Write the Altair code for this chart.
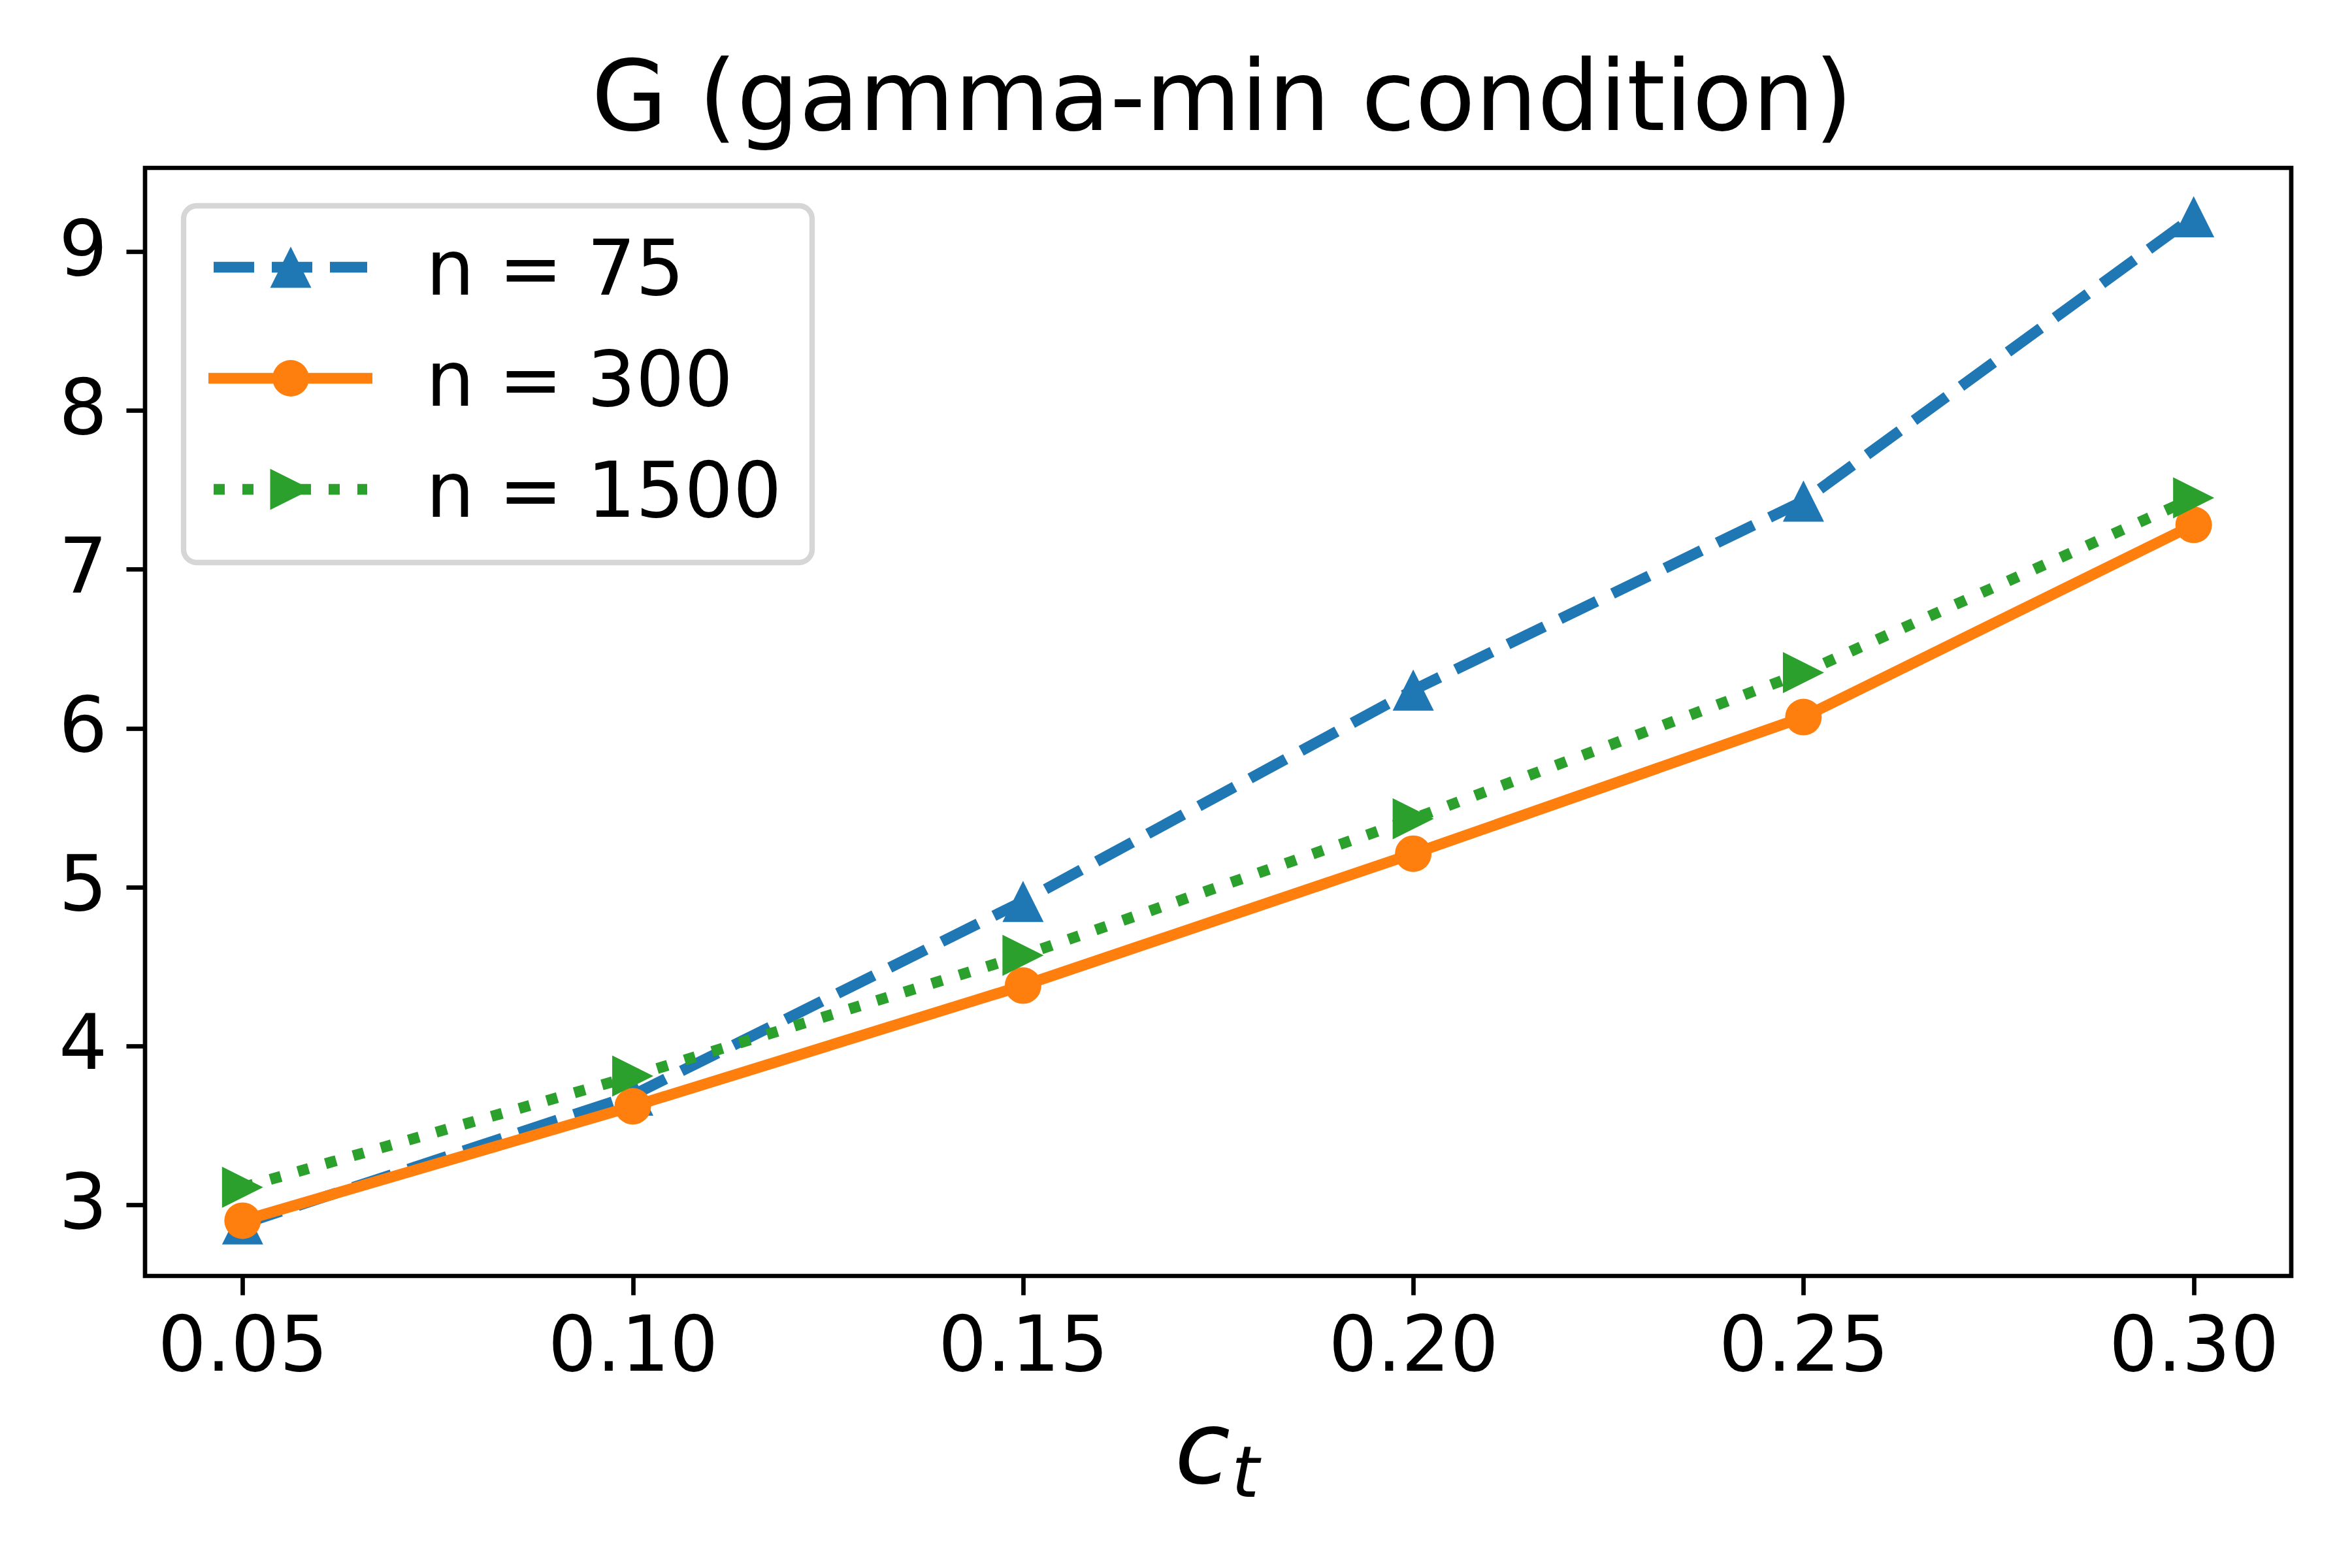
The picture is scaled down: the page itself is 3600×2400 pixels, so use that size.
import altair as alt
import pandas as pd

# ---- data ----
ct = [0.05, 0.10, 0.15, 0.20, 0.25, 0.30]
g_n75 = [2.88, 3.69, 4.91, 6.24, 7.43, 9.22]
g_n300 = [2.90, 3.62, 4.38, 5.21, 6.07, 7.28]
g_n1500 = [3.11, 3.81, 4.57, 5.43, 6.35, 7.45]
series_labels = ["n = 75", "n = 300", "n = 1500"]
x_ticks = [0.05, 0.10, 0.15, 0.20, 0.25, 0.30]
y_ticks = [3, 4, 5, 6, 7, 8, 9]
chart_title = "G (gamma-min condition)"
x_label_main = "c"
x_label_sub = "t"

# ---- styling ----
colors = ["#1f77b4", "#ff7f0e", "#2ca02c"]
dashes = [[62, 27], None, [17, 27]]
tri_up = "M0,-1L-1,1L1,1Z"
tri_right = "M1,0L-1,-1L-1,1Z"
shapes = [tri_up, "circle", tri_right]
sizes = [3969, 3136, 3969]
LW = 16.7
FONT = "DejaVu Sans"
W, H = 3285, 1696

x_scale = alt.Scale(domain=[0.0375, 0.3125], nice=False, zero=False)
y_scale = alt.Scale(domain=[2.552, 9.527], nice=False, zero=False)

x_axis = alt.Axis(values=x_ticks, format=".2f", title=None, grid=False, domain=False,
                  tickSize=29, tickWidth=6.7, tickColor="black",
                  labelFontSize=117, labelPadding=23, labelColor="black",
                  labelFont=FONT, labelFlush=False, labelLimit=1000, labelOverlap=False)
y_axis = alt.Axis(values=y_ticks, format="d", title=None, grid=False, domain=False,
                  tickSize=29, tickWidth=6.7, tickColor="black",
                  labelFontSize=117, labelPadding=29, labelColor="black",
                  labelFont=FONT, labelLimit=1000, labelOverlap=False)

all_vals = [g_n75, g_n300, g_n1500]
layers = []
for vals, lab, col, dash, shp, sz in zip(all_vals, series_labels, colors, dashes, shapes, sizes):
    df = pd.DataFrame({"ct": ct, "G": vals, "series": lab})
    line_kwargs = dict(color=col, strokeWidth=LW, strokeCap="butt", strokeJoin="round")
    if dash is not None:
        line_kwargs["strokeDash"] = dash
    enc = dict(x=alt.X("ct:Q", scale=x_scale, axis=x_axis),
               y=alt.Y("G:Q", scale=y_scale, axis=y_axis))
    layers.append(alt.Chart(df).mark_line(**line_kwargs).encode(**enc))
    layers.append(alt.Chart(df).mark_point(shape=shp, filled=True, size=sz, color=col,
                                           opacity=1, strokeWidth=0).encode(**enc))

# ---- legend (drawn manually to mimic matplotlib) ----
frame_df = pd.DataFrame({"item": ["legend"]})
layers.append(alt.Chart(frame_df).mark_rect(fill="white", fillOpacity=0.8, stroke="#d6d6d6",
                                             strokeWidth=8.3, cornerRadius=20).encode(
    x=alt.value(59), x2=alt.value(1021), y=alt.value(58), y2=alt.value(604)))
row_y = [152, 322, 492]
for i, (lab, col, dash, shp, sz) in enumerate(zip(series_labels, colors, dashes, shapes, sizes)):
    ldf = pd.DataFrame({"label": [lab]})
    rule_kwargs = dict(color=col, strokeWidth=LW, strokeCap="butt")
    if dash is not None:
        rule_kwargs["strokeDash"] = dash
        x0, x1 = 105, 340
    else:
        x0, x1 = 97, 348
    layers.append(alt.Chart(ldf).mark_rule(**rule_kwargs).encode(
        x=alt.value(x0), x2=alt.value(x1), y=alt.value(row_y[i])))
    layers.append(alt.Chart(ldf).mark_point(shape=shp, filled=True, size=sz, color=col,
                                            opacity=1, strokeWidth=0).encode(
        x=alt.value(223), y=alt.value(row_y[i])))
    layers.append(alt.Chart(ldf).mark_text(font=FONT, fontSize=117, align="left",
                                           baseline="alphabetic", color="black").encode(
        x=alt.value(430), y=alt.value(row_y[i] + 42), text="label:N"))

# ---- title and x axis label c_t (italic with subscript) ----
title_df = pd.DataFrame({"title": [chart_title]})
layers.append(alt.Chart(title_df).mark_text(font=FONT, fontSize=150, align="center",
                                            baseline="alphabetic", color="black").encode(
    x=alt.value(W / 2 + 6), y=alt.value(-58), text="title:N"))
lab_df = pd.DataFrame({"main": [x_label_main], "sub": [x_label_sub]})
layers.append(alt.Chart(lab_df).mark_text(font=FONT, fontSize=155, fontStyle="italic",
                                          align="left", baseline="alphabetic", color="black").encode(
    x=alt.value(1576), y=alt.value(2013), text="main:N"))
layers.append(alt.Chart(lab_df).mark_text(font=FONT, fontSize=108, fontStyle="italic",
                                          align="left", baseline="alphabetic", color="black").encode(
    x=alt.value(1663), y=alt.value(2034), text="sub:N"))

chart = alt.layer(*layers).properties(
    width=W, height=H,
    background="white",
    autosize=alt.AutoSizeParams(type="none"),
    padding={"left": 214, "top": 249, "right": 85, "bottom": 439},
).configure_view(stroke="black", strokeWidth=6.7)

chart.save("out.html", embed_options={"renderer": "svg", "actions": False})
